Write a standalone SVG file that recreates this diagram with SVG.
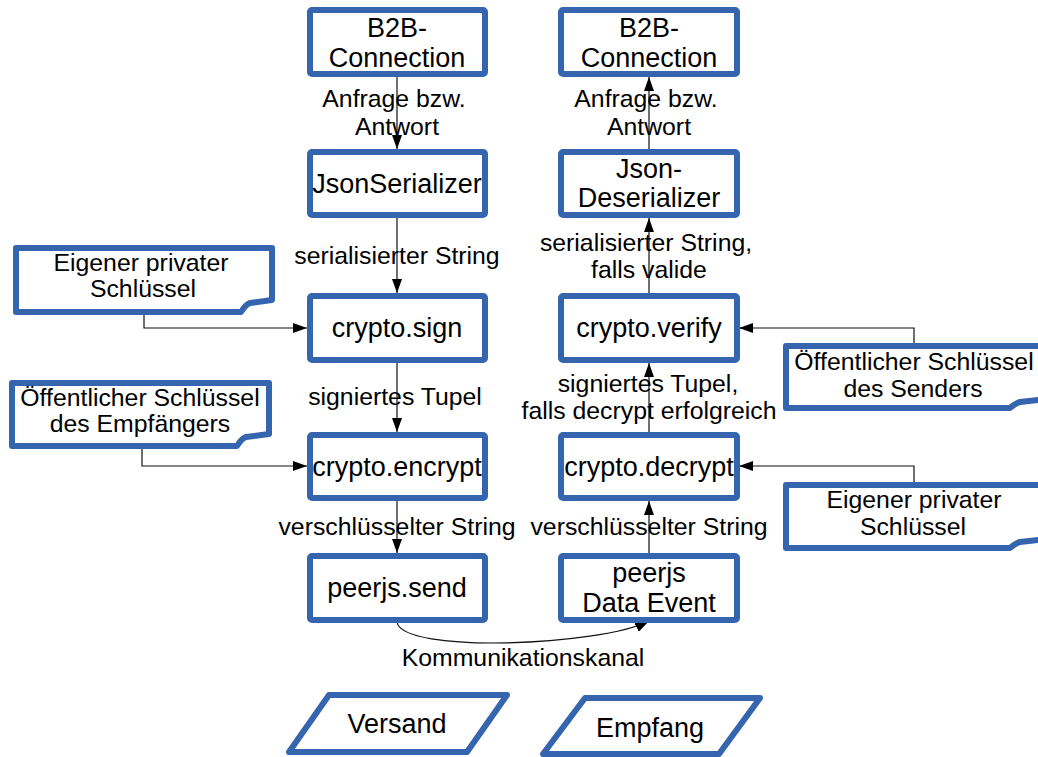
<svg xmlns="http://www.w3.org/2000/svg" width="1038" height="757" viewBox="0 0 1038 757">
  <style>
    .box { fill: #ffffff; stroke: #3465ae; stroke-width: 6; stroke-linejoin: round; }
    .t { font-family: "Liberation Sans", Arial, sans-serif; fill: #000000; text-anchor: middle; }
    .bt { font-size: 27px; }
    .lt { font-size: 24.8px; }
    .edge { fill: none; stroke: #111111; stroke-width: 1.2; }
  </style>
  <defs>
    <marker id="arrow" viewBox="0 0 14 10" refX="14" refY="5" markerWidth="14" markerHeight="10" markerUnits="userSpaceOnUse" orient="auto">
      <path d="M0,0 L14,5 L0,10 Z" fill="#000000"/>
    </marker>
  </defs>

  <rect width="1038" height="757" fill="#ffffff"/>

  <!-- connectors -->
  <g id="connectors">
    <!-- sending column -->
    <line class="edge" x1="397" y1="77" x2="397" y2="149" marker-end="url(#arrow)"/>
    <line class="edge" x1="397" y1="218" x2="397" y2="293" marker-end="url(#arrow)"/>
    <line class="edge" x1="397" y1="363" x2="397" y2="432" marker-end="url(#arrow)"/>
    <line class="edge" x1="397" y1="501" x2="397" y2="553" marker-end="url(#arrow)"/>
    <!-- receiving column -->
    <line class="edge" x1="649" y1="149" x2="649" y2="77" marker-end="url(#arrow)"/>
    <line class="edge" x1="649" y1="293" x2="649" y2="218" marker-end="url(#arrow)"/>
    <line class="edge" x1="649" y1="432" x2="649" y2="363" marker-end="url(#arrow)"/>
    <line class="edge" x1="649" y1="553" x2="649" y2="501" marker-end="url(#arrow)"/>
    <!-- keys -->
    <polyline class="edge" points="144,315 144,328 307,328" marker-end="url(#arrow)"/>
    <polyline class="edge" points="142,449 142,466 307,466" marker-end="url(#arrow)"/>
    <polyline class="edge" points="914,343 914,328 739,328" marker-end="url(#arrow)"/>
    <polyline class="edge" points="914,482 914,466 739,466" marker-end="url(#arrow)"/>
    <!-- channel -->
    <path class="edge" d="M397,622 C402,654 600,646 649,621" marker-end="url(#arrow)"/>
  </g>

  <!-- connector labels -->
  <g id="labels" class="t lt">
    <text x="394" y="107">Anfrage bzw.</text>
    <text x="397" y="135">Antwort</text>
    <text x="646" y="107">Anfrage bzw.</text>
    <text x="649" y="135">Antwort</text>
    <text x="397" y="264">serialisierter String</text>
    <text x="646" y="251">serialisierter String,</text>
    <text x="649" y="278">falls valide</text>
    <text x="395" y="405">signiertes Tupel</text>
    <text x="648" y="392">signiertes Tupel,</text>
    <text x="649" y="419">falls decrypt erfolgreich</text>
    <text x="397" y="535">verschlüsselter String</text>
    <text x="649" y="535">verschlüsselter String</text>
    <text x="523" y="666">Kommunikationskanal</text>
  </g>

  <!-- sending side -->
  <g id="b2b-send">
    <rect class="box" x="310" y="10" width="175" height="64" rx="2"/>
    <text class="t bt" x="397" y="37">B2B-</text>
    <text class="t bt" x="397" y="67">Connection</text>
  </g>
  <g id="json-serializer">
    <rect class="box" x="310" y="152" width="175" height="63" rx="2"/>
    <text class="t bt" x="397" y="193">JsonSerializer</text>
  </g>
  <g id="crypto-sign">
    <rect class="box" x="310" y="296" width="175" height="64" rx="2"/>
    <text class="t bt" x="397" y="337">crypto.sign</text>
  </g>
  <g id="crypto-encrypt">
    <rect class="box" x="310" y="435" width="175" height="63" rx="2"/>
    <text class="t bt" x="397" y="476">crypto.encrypt</text>
  </g>
  <g id="peerjs-send">
    <rect class="box" x="310" y="556" width="175" height="64" rx="2"/>
    <text class="t bt" x="397" y="597">peerjs.send</text>
  </g>

  <!-- receiving side -->
  <g id="b2b-receive">
    <rect class="box" x="561" y="10" width="176" height="64" rx="2"/>
    <text class="t bt" x="649" y="37">B2B-</text>
    <text class="t bt" x="649" y="67">Connection</text>
  </g>
  <g id="json-deserializer">
    <rect class="box" x="561" y="152" width="176" height="63" rx="2"/>
    <text class="t bt" x="649" y="178">Json-</text>
    <text class="t bt" x="649" y="207">Deserializer</text>
  </g>
  <g id="crypto-verify">
    <rect class="box" x="561" y="296" width="176" height="64" rx="2"/>
    <text class="t bt" x="649" y="337">crypto.verify</text>
  </g>
  <g id="crypto-decrypt">
    <rect class="box" x="561" y="435" width="176" height="63" rx="2"/>
    <text class="t bt" x="649" y="476">crypto.decrypt</text>
  </g>
  <g id="peerjs-data-event">
    <rect class="box" x="561" y="556" width="176" height="64" rx="2"/>
    <text class="t bt" x="649" y="582">peerjs</text>
    <text class="t bt" x="649" y="612">Data Event</text>
  </g>

  <!-- key documents -->
  <g id="doc-private-key-send">
    <path class="box" d="M16,248 H272 V300 L250,303 Q246,304 241,312 H16 Z"/>
    <text class="t lt" x="141" y="271">Eigener privater</text>
    <text class="t lt" x="143" y="297">Schlüssel</text>
  </g>
  <g id="doc-public-key-recipient">
    <path class="box" d="M12,383 H269 V434 L246,437 Q242,438 237,446 H12 Z"/>
    <text class="t lt" x="140" y="406">Öffentlicher Schlüssel</text>
    <text class="t lt" x="140" y="432">des Empfängers</text>
  </g>
  <g id="doc-public-key-sender">
    <path class="box" d="M786,346 H1046 V399 L1020,402 Q1016,403 1010,408 H786 Z"/>
    <text class="t lt" x="914" y="370">Öffentlicher Schlüssel</text>
    <text class="t lt" x="913" y="397">des Senders</text>
  </g>
  <g id="doc-private-key-receive">
    <path class="box" d="M786,485 H1046 V539 L1020,542 Q1016,543 1010,548 H786 Z"/>
    <text class="t lt" x="914" y="508">Eigener privater</text>
    <text class="t lt" x="913" y="535">Schlüssel</text>
  </g>

  <!-- legend -->
  <g id="legend-versand">
    <polygon class="box" points="329,695 507,695 467,752 289,752"/>
    <text class="t bt" x="397" y="733">Versand</text>
  </g>
  <g id="legend-empfang">
    <polygon class="box" points="585,698 760,698 719,754 543,754"/>
    <text class="t bt" x="650" y="737">Empfang</text>
  </g>
</svg>
